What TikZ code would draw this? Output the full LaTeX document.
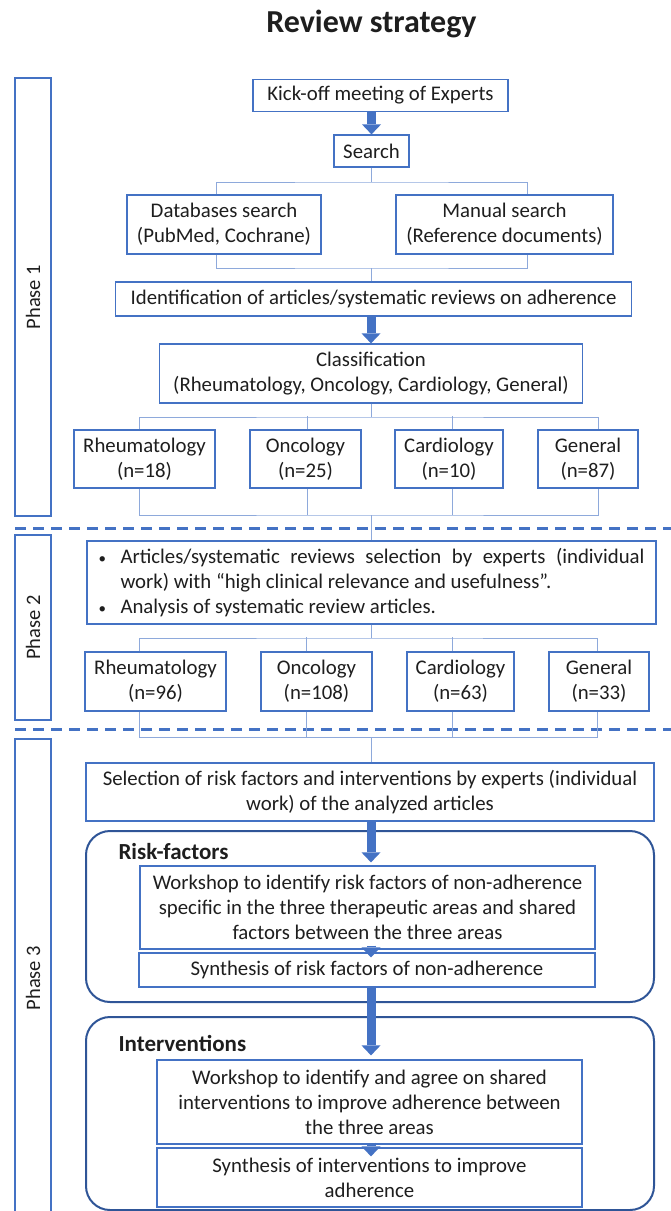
\documentclass[tikz,border=0pt]{standalone}
\usepackage{fontspec}
\setmainfont{Carlito}
\usetikzlibrary{arrows.meta}
\definecolor{boxblue}{HTML}{4472C4}
\definecolor{linkblue}{HTML}{8EA9DB}
\definecolor{groupblue}{HTML}{2F5597}
\definecolor{inktext}{HTML}{1E1E1E}
\newcommand{\itemdot}{\makebox[22pt][l]{\fontsize{15}{15}\selectfont •}}
\begin{document}
\begin{tikzpicture}[x=1pt, y=-1pt,
  every node/.style={font=\fontsize{20.8}{25}\selectfont, text=inktext},
  box/.style={draw=boxblue, line width=1.2pt, fill=white, align=center, inner sep=0pt},
  phasebox/.style={draw=boxblue, line width=1.2pt, minimum width=36pt, inner sep=0pt},
  phaselabel/.style={rotate=90, font=\fontsize{20.5}{25}\selectfont},
  group/.style={draw=groupblue, line width=2pt, rounded corners=24pt, minimum width=568pt, inner sep=0pt},
  grouplabel/.style={anchor=west, font=\bfseries\fontsize{23}{27}\selectfont},
  link/.style={draw=linkblue, line width=1pt},
  bigarrow/.style={draw=boxblue, line width=9pt, -{Triangle[width=19pt,length=10pt,line width=0pt]}},
  sep/.style={draw=boxblue, line width=3pt, dash pattern=on 11pt off 7pt}]

\useasboundingbox (0,0) rectangle (671,1211);

\node[font=\bfseries\fontsize{32}{36}\selectfont] (title) at (371.5,24) {Review strategy};

% phase columns
\node[phasebox, minimum height=438pt] (ph1) at (33,297) {};
\node[phasebox, minimum height=185pt] (ph2) at (33,627.5) {};
\node[phasebox, minimum height=478pt] (ph3) at (33,978) {};
\node[phaselabel] at (ph1) {Phase 1};
\node[phaselabel] at (ph2) {Phase 2};
\node[phaselabel] at (ph3) {Phase 3};

\draw[sep] (15,528) -- (671,528);
\draw[sep] (15,729) -- (671,729);

% phase 1
\node[box, minimum width=255pt, minimum height=32pt] (kick) at (380.5,95.5) {Kick-off meeting of Experts};
\node[box, minimum width=75pt, minimum height=32pt] (search) at (371.5,151) {Search};
\node[box, minimum width=194pt, minimum height=59pt] (db) at (224,224.5) {Databases search\\(PubMed, Cochrane)};
\node[box, minimum width=217pt, minimum height=59pt] (man) at (504.5,224.5) {Manual search\\(Reference documents)};
\node[box, minimum width=516pt, minimum height=34pt] (ident) at (373.5,299) {Identification of articles/systematic reviews on adherence};
\node[box, minimum width=423pt, minimum height=59pt] (class) at (371,373.5) {Classification\\(Rheumatology, Oncology, Cardiology, General)};

\node[box, minimum width=141pt, minimum height=58pt] (rheum1) at (144.5,459) {Rheumatology\\(n=18)};
\node[box, minimum width=111pt, minimum height=58pt] (onco1) at (305.5,459) {Oncology\\(n=25)};
\node[box, minimum width=108pt, minimum height=58pt] (cardio1) at (449,459) {Cardiology\\(n=10)};
\node[box, minimum width=100pt, minimum height=58pt] (gen1) at (588,459) {General\\(n=87)};

% phase 2
\node[box, minimum width=569pt, minimum height=83pt, text width=546pt, align=justify] (select2) at (371.5,582.5) {%
\hangindent=22pt\hangafter=1\noindent\itemdot Articles/systematic reviews selection by experts (individual\linebreak work) with “high clinical relevance and usefulness”.\par
\noindent\itemdot Analysis of systematic review articles.};

\node[box, minimum width=141pt, minimum height=59pt] (rheum2) at (155.5,681.5) {Rheumatology\\(n=96)};
\node[box, minimum width=111pt, minimum height=59pt] (onco2) at (316.5,681.5) {Oncology\\(n=108)};
\node[box, minimum width=107pt, minimum height=59pt] (cardio2) at (460.5,681.5) {Cardiology\\(n=63)};
\node[box, minimum width=100pt, minimum height=59pt] (gen2) at (599,681.5) {General\\(n=33)};

% phase 3
\node[box, minimum width=568pt, minimum height=58pt] (select3) at (370,792) {Selection of risk factors and interventions by experts (individual\\work) of the analyzed articles};

\node[group, minimum height=171pt] (risk) at (370,916.5) {};
\node[grouplabel] (risklbl) at (115,852) {Risk-factors};
\node[box, minimum width=455pt, minimum height=83pt] (work1) at (367.5,907.5) {Workshop to identify risk factors of non-adherence\\specific in the three therapeutic areas and shared\\factors between the three areas};
\node[box, minimum width=456pt, minimum height=34pt] (synth1) at (367,970) {Synthesis of risk factors of non-adherence};

\node[group, minimum height=193pt] (interv) at (370,1113.5) {};
\node[grouplabel] (intervlbl) at (115,1043) {Interventions};
\node[box, minimum width=425pt, minimum height=84pt] (work2) at (369.5,1102) {Workshop to identify and agree on shared\\interventions to improve adherence between\\the three areas};
\node[box, minimum width=425pt, minimum height=59pt] (synth2) at (369.5,1177.5) {Synthesis of interventions to improve\\adherence};

% connectors
\coordinate (bus1) at (371.5,182);
\draw[link] (search) -- (bus1);
\draw[link] ([xshift=-8pt]db.north) |- (bus1) -| ([xshift=23pt]man.north);
\coordinate (bus2) at (371.5,268);
\draw[link] ([xshift=-8pt]db.south) |- (bus2) -| ([xshift=23pt]man.south);
\draw[link] (bus2) -- (ident.north -| bus2);

\coordinate (bus3) at (371,417);
\draw[link] (class) -- (bus3);
\draw[link] ([xshift=-5.5pt]rheum1.north) |- (bus3) -| ([xshift=10pt]gen1.north);
\draw[link] ([xshift=1.5pt]onco1.north) -- ++(0,-13);
\draw[link] ([xshift=3pt]cardio1.north) -- ++(0,-13);
\coordinate (bus4) at (371,515);
\draw[link] ([xshift=-5.5pt]rheum1.south) |- (bus4) -| ([xshift=10pt]gen1.south);
\draw[link] ([xshift=1.5pt]onco1.south) -- ++(0,26);
\draw[link] ([xshift=3pt]cardio1.south) -- ++(0,26);
\draw[link] (bus4) -- (select2.north -| bus4);

\coordinate (bus5) at (371,638);
\draw[link] (select2.south -| bus5) -- (bus5);
\draw[link] ([xshift=-16.5pt]rheum2.north) |- (bus5) -| ([xshift=-2pt]gen2.north);
\draw[link] ([xshift=-10.5pt]onco2.north) -- ++(0,-14);
\draw[link] ([xshift=-8.5pt]cardio2.north) -- ++(0,-14);
\coordinate (bus6) at (371,737);
\draw[link] ([xshift=-16.5pt]rheum2.south) |- (bus6) -| ([xshift=-2pt]gen2.south);
\draw[link] ([xshift=-10.5pt]onco2.south) -- ++(0,26);
\draw[link] ([xshift=-8.5pt]cardio2.south) -- ++(0,26);
\draw[link] (bus6) -- (select3.north -| bus6);

% block arrows
\draw[bigarrow] (search.north |- kick.south) -- (search.north);
\draw[bigarrow] (class.north |- ident.south) -- (class.north);
\draw[bigarrow] (select3.south -| bus6) -- ([yshift=3pt]work1.north -| bus6);
\draw[bigarrow] ([yshift=4pt]work1.south -| bus6) -- ([yshift=-5pt]synth1.north -| bus6);
\draw[bigarrow] (synth1.south -| bus6) -- ([yshift=4pt]work2.north -| bus6);
\draw[bigarrow] ([yshift=2pt]work2.south -| bus6) -- ([yshift=-9pt]synth2.north -| bus6);

\end{tikzpicture}
\end{document}
